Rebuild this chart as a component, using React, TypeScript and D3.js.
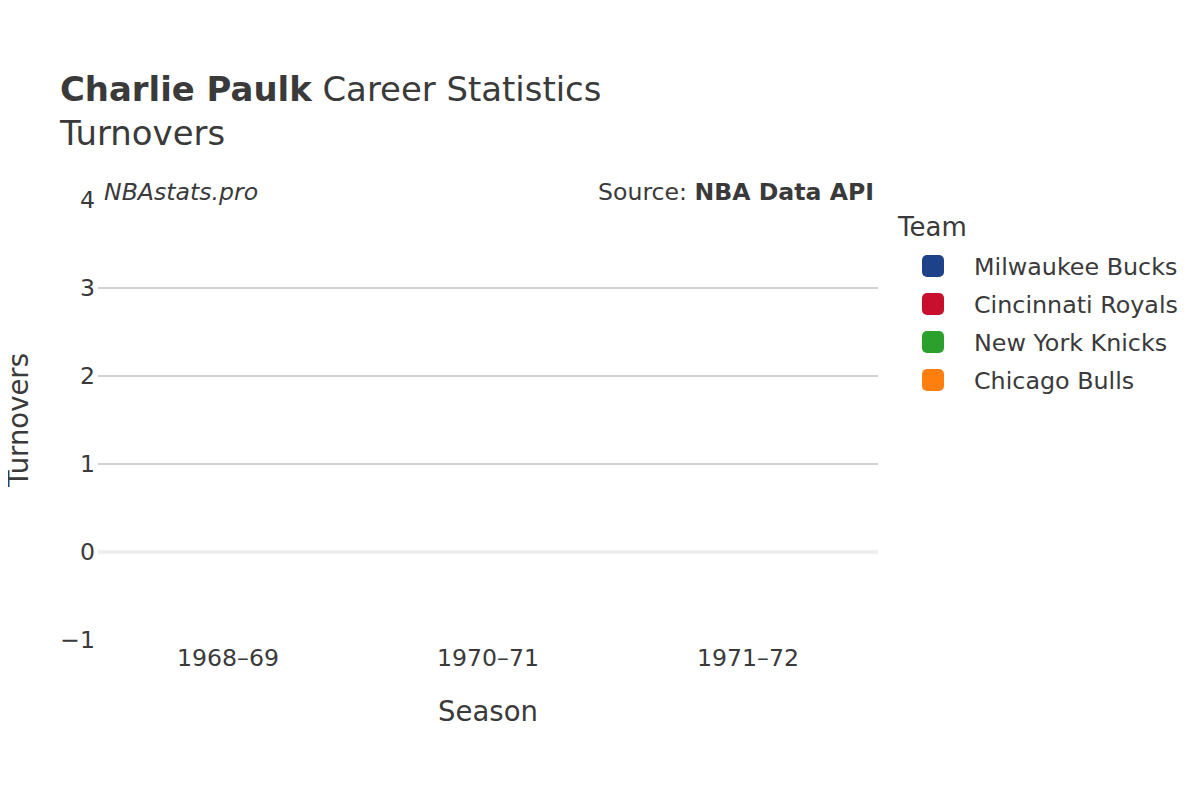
import * as d3 from 'd3';

// Seasons on the x axis (no turnover values recorded for any of them)
const seasons = ['1968–69', '1970–71', '1971–72'];
const teams = ['Milwaukee Bucks', 'Cincinnati Royals', 'New York Knicks', 'Chicago Bulls'];
const teamColors = ['#1d428a', '#c8102e', '#2ca02c', '#ff7f0e'];
const yTicks = [-1, 0, 1, 2, 3, 4];
// turnovers per team per season: none available
const turnovers: { team: string; season: string; value: number }[] = [];

const FONT = '"DejaVu Sans", Verdana, sans-serif';
const TEXT = '#3a3a3a';

export default function App() {
  const width = 1200;
  const height = 800;
  const margin = { top: 200, right: 322, bottom: 160, left: 98 };

  const x = d3.scaleBand().domain(seasons).range([margin.left, width - margin.right]);
  const y = d3.scaleLinear().domain([-1, 4]).range([height - margin.bottom, margin.top]);

  return (
    <svg width={width} height={height} style={{ display: 'block', margin: -8, fontFamily: FONT }}>
      <rect width={width} height={height} fill="#fff" />

      {/* title */}
      <text x={60} y={101} fontSize={33.9} fill={TEXT}>
        <tspan fontWeight="bold">Charlie Paulk</tspan> Career Statistics
      </text>
      <text x={60} y={145} fontSize={33.9} fill={TEXT}>Turnovers</text>

      {/* grid */}
      {yTicks.filter(t => t !== 0 && t !== -1 && t !== 4).map(t => (
        <line key={t} x1={margin.left} x2={width - margin.right} y1={y(t)} y2={y(t)}
          stroke="#c4c4c4" strokeWidth={1.6} />
      ))}
      <line x1={margin.left} x2={width - margin.right} y1={y(0)} y2={y(0)}
        stroke="#ececec" strokeWidth={3.5} />

      {/* data (empty) */}
      {turnovers.map((d, i) => (
        <circle key={i} cx={(x(d.season) ?? 0) + x.bandwidth() / 2} cy={y(d.value)} r={6}
          fill={teamColors[teams.indexOf(d.team)]} />
      ))}

      {/* y tick labels */}
      {yTicks.map(t => (
        <text key={t} x={95} y={y(t)} dy="0.36em" textAnchor="end" fontSize={23.6} fill={TEXT}>
          {t < 0 ? `−${Math.abs(t)}` : t}
        </text>
      ))}

      {/* x tick labels */}
      {seasons.map(s => (
        <text key={s} x={(x(s) ?? 0) + x.bandwidth() / 2} y={666} textAnchor="middle" fontSize={23.6} fill={TEXT}>
          {s}
        </text>
      ))}

      {/* axis titles */}
      <text x={(margin.left + width - margin.right) / 2} y={721} textAnchor="middle" fontSize={27.5} fill={TEXT}>Season</text>
      <text transform={`translate(28, ${y(1.5)}) rotate(-90)`} textAnchor="middle" fontSize={27.5} fill={TEXT}>Turnovers</text>

      {/* watermark & source */}
      <text x={104} y={200} fontSize={23.6} fontStyle="italic" fill={TEXT}>NBAstats.pro</text>
      <text x={874} y={200} textAnchor="end" fontSize={23.6} fill={TEXT}>
        Source: <tspan fontWeight="bold">NBA Data API</tspan>
      </text>

      {/* legend */}
      <text x={898} y={236} fontSize={26} fill={TEXT}>Team</text>
      {teams.map((t, i) => (
        <g key={t} transform={`translate(922, ${266 + i * 38})`}>
          <rect x={0} y={-11} width={22} height={22} rx={5} fill={teamColors[i]} />
          <text x={52} y={0} dy="0.36em" fontSize={23.8} fill={TEXT}>{t}</text>
        </g>
      ))}
    </svg>
  );
}
